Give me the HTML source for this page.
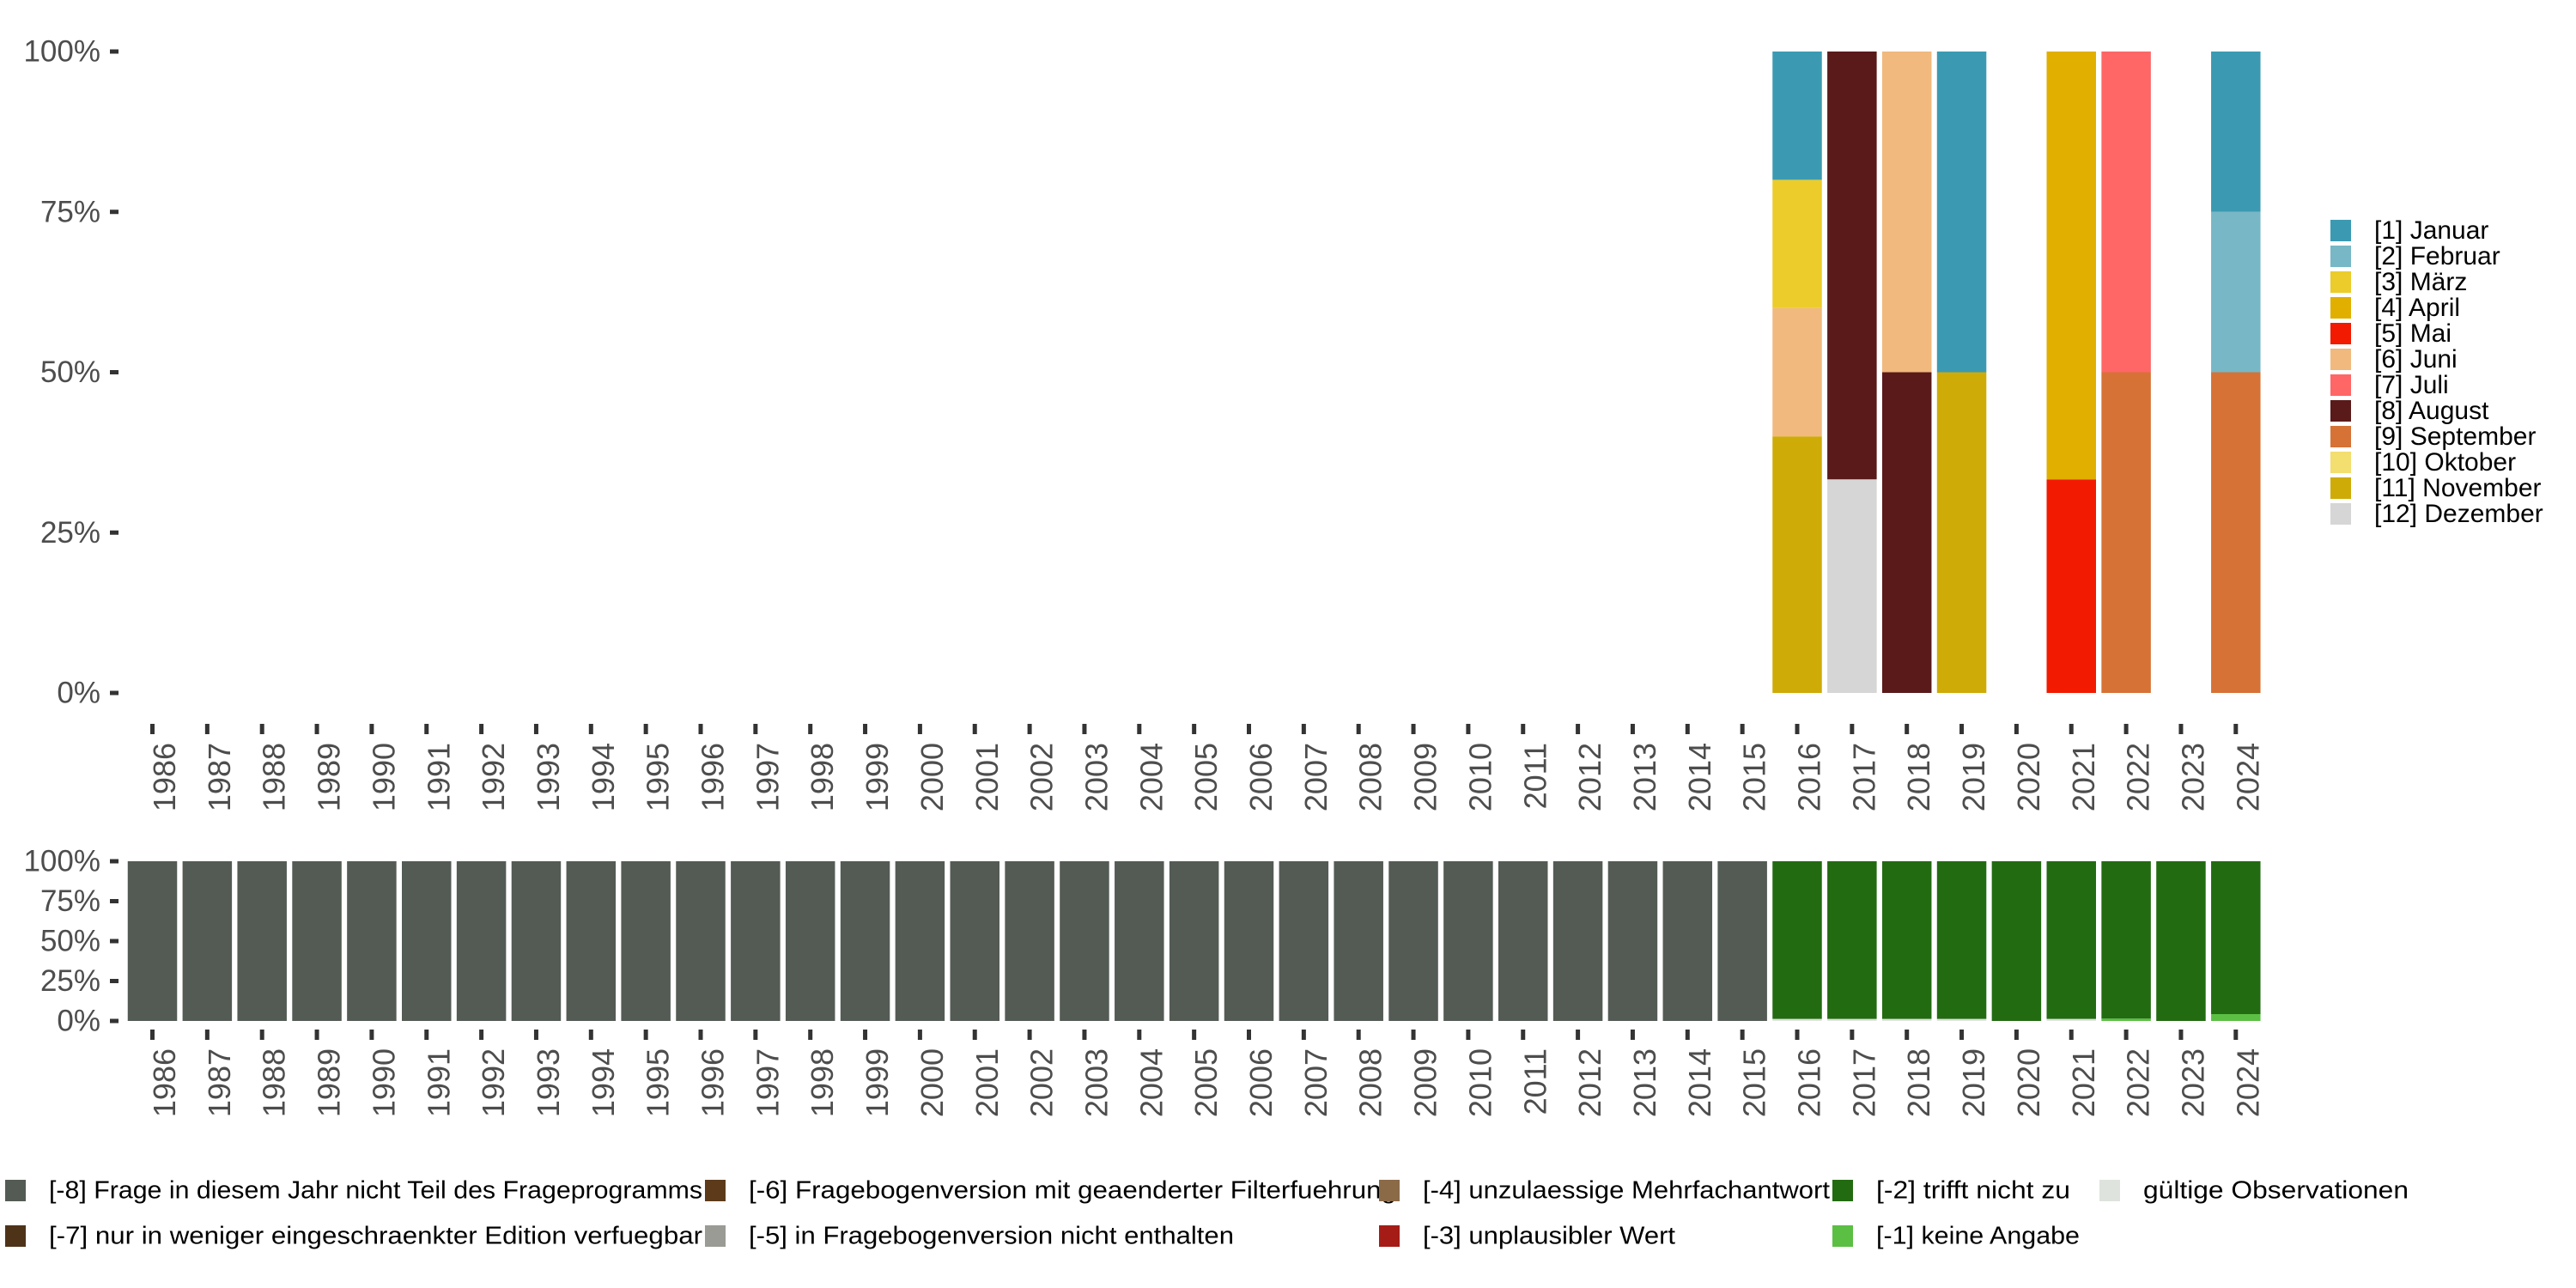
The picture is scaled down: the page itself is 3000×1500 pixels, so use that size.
<!DOCTYPE html>
<html><head><meta charset="utf-8">
<style>
html,body{margin:0;padding:0;background:#fff;}
svg{display:block;font-family:"Liberation Sans",sans-serif;}
.ax{fill:#4d4d4d;}
.lg{fill:#000;}
</style></head>
<body>
<svg id="chart" width="3000" height="1500" viewBox="0 0 3000 1500" xmlns="http://www.w3.org/2000/svg">
<g id="top-bars"></g>
<g id="top-yaxis"></g>
<g id="top-xaxis"></g>
<g id="bot-bars"></g>
<g id="bot-yaxis"></g>
<g id="bot-xaxis"></g>
<g id="month-legend"></g>
<g id="status-legend"></g>
</svg>
<script>
const years = [];
for (let y = 1986; y <= 2024; y++) years.push(String(y));
const yTicks = [0, 25, 50, 75, 100];
const yTickLabels = ["0%", "25%", "50%", "75%", "100%"];

const monthNames = ["[1] Januar","[2] Februar","[3] März","[4] April","[5] Mai","[6] Juni","[7] Juli","[8] August","[9] September","[10] Oktober","[11] November","[12] Dezember"];
const monthColors = ["#3b9ab2","#78b7c5","#ebcc2a","#e1af00","#f21a00","#f1b97e","#ff6666","#5a1a1a","#d67236","#f3de70","#cfab07","#d6d6d6"];
// percent shares per year, per month index (1..12)
const monthYears = ["2016","2017","2018","2019","2021","2022","2024"];
const monthShares = [
  {1:20, 3:20, 6:20, 11:40},
  {8:66.7, 12:33.3},
  {6:50, 8:50},
  {1:50, 11:50},
  {4:66.7, 5:33.3},
  {7:50, 9:50},
  {1:25, 2:25, 9:50}
];

const statusNames = ["[-8] Frage in diesem Jahr nicht Teil des Frageprogramms","[-7] nur in weniger eingeschraenkter Edition verfuegbar","[-6] Fragebogenversion mit geaenderter Filterfuehrung","[-5] in Fragebogenversion nicht enthalten","[-4] unzulaessige Mehrfachantwort","[-3] unplausibler Wert","[-2] trifft nicht zu","[-1] keine Angabe","gültige Observationen"];
const statusColors = ["#545b55","#4e3319","#5c3a1a","#999b94","#8b6a48","#a51c16","#226b11","#5bbf43","#dfe3de"];
// shares per year for statuses -8, -2, -1, valid
const shareMinus8 = [100,100,100,100,100,100,100,100,100,100,100,100,100,100,100,100,100,100,100,100,100,100,100,100,100,100,100,100,100,100,0,0,0,0,0,0,0,0,0];
const shareMinus2 = [0,0,0,0,0,0,0,0,0,0,0,0,0,0,0,0,0,0,0,0,0,0,0,0,0,0,0,0,0,0,98.7,98.7,98.7,98.7,100,98.7,98.5,100,95.7];
const shareMinus1 = [0,0,0,0,0,0,0,0,0,0,0,0,0,0,0,0,0,0,0,0,0,0,0,0,0,0,0,0,0,0,0,0,0,0,0,0,1.5,0,4.3];
const shareValid  = [0,0,0,0,0,0,0,0,0,0,0,0,0,0,0,0,0,0,0,0,0,0,0,0,0,0,0,0,0,0,1.3,1.3,1.3,1.3,0,1.3,0,0,0];

const NS = "http://www.w3.org/2000/svg";
function mk(tag, attrs, parent){const e=document.createElementNS(NS,tag);for(const k in attrs)e.setAttribute(k,attrs[k]);parent.appendChild(e);return e;}

const x0 = 177.5, pitch = 63.85, bw = 57.5;
function xCenter(i){return x0 + i*pitch;}
function yTop(v){return 807 - v/100*(807-60);}
function yBot(v){return 1189 - v/100*(1189-1003);}

// top bars
const tb = document.getElementById('top-bars');
monthYears.forEach((yr, j) => {
  const i = years.indexOf(yr);
  let cum = 0;
  for (let m = 12; m >= 1; m--) {
    const v = monthShares[j][m];
    if (!v) continue;
    const r = mk('rect', {x: xCenter(i)-bw/2, y: yTop(cum+v), width: bw, height: yTop(cum)-yTop(cum+v), fill: monthColors[m-1]}, tb);
    
    
    cum += v;
  }
});

// bottom bars: stack bottom to top: valid, -1, -2, -8
const bb = document.getElementById('bot-bars');
years.forEach((yr, i) => {
  const segs = [[shareValid[i], statusColors[8], 'valid'], [shareMinus1[i], statusColors[7], 'minus1'], [shareMinus2[i], statusColors[6], 'minus2'], [shareMinus8[i], statusColors[0], 'minus8']];
  let cum = 0;
  segs.forEach(s => {
    if (!s[0]) return;
    const r = mk('rect', {x: xCenter(i)-bw/2, y: yBot(cum+s[0]), width: bw, height: yBot(cum)-yBot(cum+s[0]), fill: s[1]}, bb);
    
    
    cum += s[0];
  });
});

// y axes
function yAxis(gid, fy){
  const g = document.getElementById(gid);
  yTicks.forEach((t, k) => {
    const y = fy(t);
    const tk = mk('rect', {x: 128, y: y-2.5, width: 10, height: 5, fill: '#333'}, g);
    
    
    const tx = mk('text', {x: 117, y: y, 'text-anchor': 'end', 'dominant-baseline': 'central', 'font-size': 35, class: 'ax'}, g);
    tx.textContent = yTickLabels[k];
    
    
  });
}
yAxis('top-yaxis', yTop);
yAxis('bot-yaxis', yBot);

// x axes
function xAxis(gid, tickY, labelY){
  const g = document.getElementById(gid);
  years.forEach((yr, i) => {
    const cx = xCenter(i);
    const tk = mk('rect', {x: cx-2.5, y: tickY, width: 5, height: 12, fill: '#333'}, g);
    
    
    const tx = mk('text', {x: 0, y: 0, 'text-anchor': 'end', 'dominant-baseline': 'central', 'font-size': 36, class: 'ax', transform: 'translate(' + (cx+14) + ',' + labelY + ') rotate(-90)'}, g);
    tx.textContent = yr;
    
    
  });
}
xAxis('top-xaxis', 843, 865);
xAxis('bot-xaxis', 1199, 1221);

// month legend
const ml = document.getElementById('month-legend');
monthNames.forEach((n, k) => {
  const y = 256 + k*30;
  const r = mk('rect', {x: 2714, y: y, width: 24, height: 25, fill: monthColors[k]}, ml);
  
  
  const t = mk('text', {x: 2765, y: y+12.5, 'dominant-baseline': 'central', 'font-size': 30, class: 'lg'}, ml);
  t.textContent = n;
  
  
});

// status legend
const sl = document.getElementById('status-legend');
const colKeyX = [6, 821, 1606, 2134, 2445];
const statusCol = [0,0,1,1,2,2,3,3,4];
const statusRow = [0,1,0,1,0,1,0,1,0];
const statusLen = [761,761,754,565,474,294,226,237,309];
statusNames.forEach((n, k) => {
  const kx = colKeyX[statusCol[k]];
  const y = statusRow[k] ? 1427 : 1374;
  const r = mk('rect', {x: kx, y: y, width: 24, height: 25, fill: statusColors[k]}, sl);
  
  
  const t = mk('text', {x: kx+51, y: y+12.5, 'dominant-baseline': 'central', 'font-size': 29, class: 'lg', textLength: statusLen[k], lengthAdjust: 'spacingAndGlyphs'}, sl);
  t.textContent = n;
  
  
});
</script>
</body></html>
